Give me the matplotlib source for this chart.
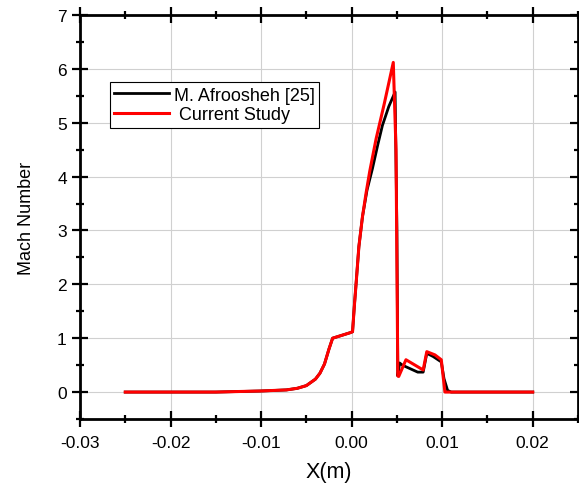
import matplotlib
matplotlib.use("Agg")
import matplotlib.pyplot as plt
from matplotlib.ticker import MultipleLocator

plt.rcParams['font.family'] = ['Liberation Sans', 'DejaVu Sans']

# Reference data (M. Afroosheh [25])
ref_x = [-0.025, -0.015, -0.010, -0.0072, -0.006, -0.005, -0.004, -0.0035, -0.003, -0.0025,
         -0.0021, -0.0002,
         0.0001, 0.0003, 0.0005, 0.0008, 0.0012, 0.0017, 0.0023, 0.0029, 0.0034, 0.0041, 0.0048,
         0.0050, 0.0051, 0.0053, 0.0056,
         0.0073, 0.0079, 0.0083, 0.0090, 0.0099, 0.0102, 0.0106, 0.0110, 0.020]
ref_y = [0.0, 0.0, 0.02, 0.04, 0.07, 0.12, 0.24, 0.35, 0.52, 0.8,
         1.0, 1.1,
         1.12, 1.6, 2.03, 2.7, 3.26, 3.75, 4.15, 4.6, 4.95, 5.3, 5.57,
         3.0, 0.3, 0.54, 0.5,
         0.37, 0.37, 0.72, 0.66, 0.56, 0.25, 0.03, 0.0, 0.0]

# Current study
cur_x = [-0.025, -0.015, -0.010, -0.0072, -0.006, -0.005, -0.004, -0.0035, -0.003, -0.0025,
         -0.0021, -0.0002,
         0.0001, 0.0003, 0.0005, 0.0008, 0.0012, 0.0016, 0.0020, 0.0027, 0.0036, 0.0046,
         0.0049, 0.0051, 0.0052,
         0.0060, 0.0075, 0.0079, 0.0083, 0.0092, 0.0099, 0.0103, 0.020]
cur_y = [0.0, 0.0, 0.02, 0.04, 0.07, 0.12, 0.24, 0.35, 0.52, 0.8,
         1.0, 1.1,
         1.12, 1.6, 2.03, 2.7, 3.26, 3.7, 4.1, 4.7, 5.35, 6.12,
         4.5, 0.3, 0.29,
         0.6, 0.45, 0.41, 0.75, 0.69, 0.6, 0.0, 0.0]

fig = plt.figure(figsize=(5.79, 4.89), dpi=100)
ax = fig.add_axes([80/579, 1-420/489, 498/579, 404/489])

ax.plot(ref_x, ref_y, color='black', lw=2.0, label='M. Afroosheh [25]')
ax.plot(cur_x, cur_y, color='red', lw=2.2, label=' Current Study')

ax.set_xlim(-0.03, 0.025)
ax.set_ylim(-0.5, 7)
ax.xaxis.set_minor_locator(MultipleLocator(0.005))
ax.yaxis.set_major_locator(MultipleLocator(1))
ax.yaxis.set_minor_locator(MultipleLocator(0.5))
ax.set_xticks([-0.03, -0.02, -0.01, 0.0, 0.01, 0.02])
ax.set_xticklabels(['-0.03', '-0.02', '-0.01', '0.00', '0.01', '0.02'])

ax.grid(True, which='major', color='#d0d0d0', lw=0.8)
ax.set_axisbelow(True)

for s in ax.spines.values():
    s.set_linewidth(2.0)

ax.tick_params(which='major', direction='inout', length=11, width=1.6,
               top=True, right=True, labelsize=12.5)
ax.tick_params(axis='x', which='major', pad=6)
ax.tick_params(axis='y', which='major', pad=4)
ax.tick_params(which='minor', direction='inout', length=6, width=1.6,
               top=True, right=True)

ax.set_xlabel('X(m)', fontsize=15.5, labelpad=8)
ax.set_ylabel('Mach Number', fontsize=13, labelpad=16)

leg = ax.legend(loc='upper left', bbox_to_anchor=(0.06, 0.834), fontsize=13,
                frameon=True, fancybox=False, edgecolor='black', framealpha=1,
                handlelength=3.0, borderpad=0.25, labelspacing=0.15, handletextpad=0.3,
                borderaxespad=0)
leg.get_frame().set_linewidth(0.8)

fig.savefig('out.png', dpi=100)
